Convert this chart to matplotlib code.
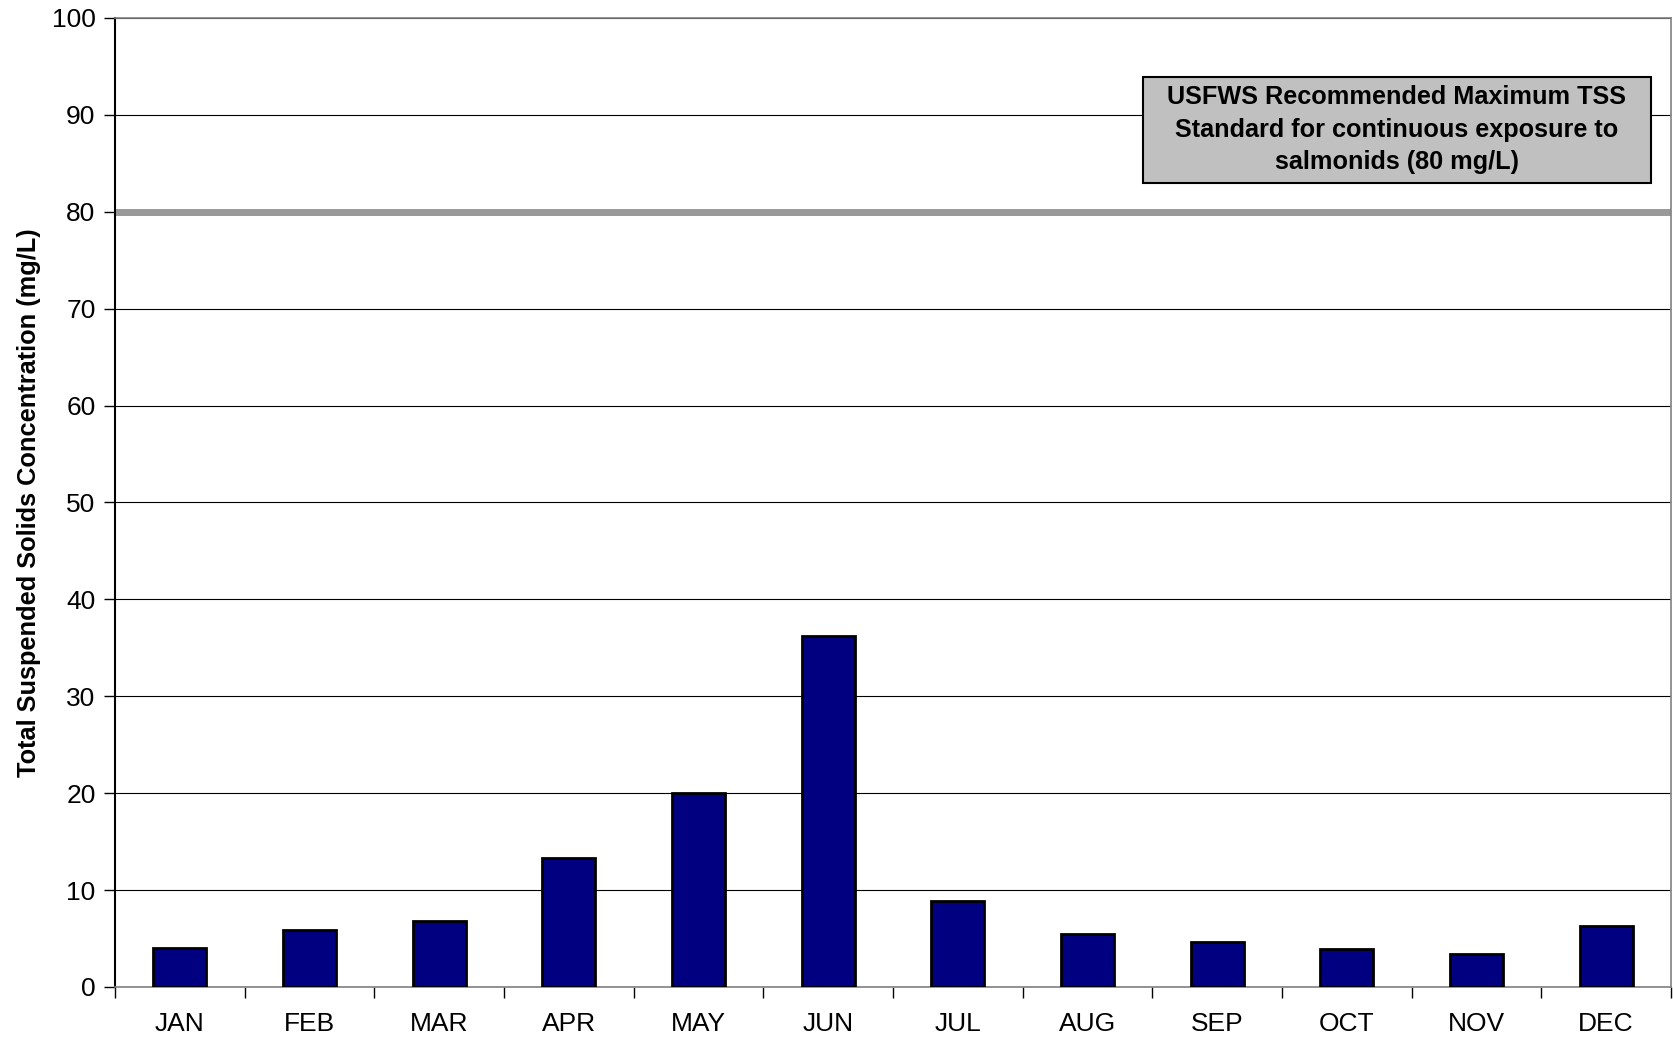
import matplotlib
matplotlib.use("Agg")
import matplotlib.pyplot as plt
from matplotlib.patches import Rectangle
import numpy as np

plt.rcParams['font.family'] = ['Liberation Sans', 'DejaVu Sans']

months = ["JAN", "FEB", "MAR", "APR", "MAY", "JUN",
          "JUL", "AUG", "SEP", "OCT", "NOV", "DEC"]
tss = [4.0, 5.9, 6.8, 13.3, 20.0, 36.2, 8.9, 5.5, 4.6, 3.9, 3.4, 6.3]
standard = 80
y_ticks = list(range(0, 101, 10))

W, H = 1673, 1039
fig = plt.figure(figsize=(W / 100, H / 100), dpi=100)
ax = fig.add_axes([115 / W, 1 - 987 / H, (1671 - 115) / W, (987 - 18) / H])

x = np.arange(len(months))
ax.bar(x, tss, width=0.41, color="#000080", edgecolor="black",
       linewidth=2.0, zorder=3)

ax.set_xlim(-0.5, len(months) - 0.5)
ax.set_ylim(0, 100)
ax.set_yticks(y_ticks)
ax.set_xticks(x)
ax.set_xticklabels(months)
ax.set_xticks(np.arange(-0.5, len(months)), minor=True)
ax.tick_params(axis="x", which="major", length=0, pad=18, labelsize=19)
ax.tick_params(axis="x", which="minor", length=8, width=1, direction="out",
               color="black")
ax.tick_params(axis="y", length=8, width=1, direction="out", labelsize=19,
               pad=6)

ax.yaxis.grid(True, color="black", linewidth=0.8, zorder=0)
ax.set_axisbelow(True)

for side in ["top", "right", "bottom"]:
    ax.spines[side].set_color("#808080")
    ax.spines[side].set_linewidth(1.2)
ax.spines["left"].set_color("black")
ax.spines["left"].set_linewidth(1.5)

# Recommended maximum TSS standard
ax.axhline(standard, color="#999999", linewidth=5, zorder=2,
           solid_capstyle="round")

# Annotation box for the standard
box_x0, box_x1 = 7.426, 11.343
box_y0, box_y1 = 83.0, 93.95
ax.add_patch(Rectangle((box_x0, box_y0), box_x1 - box_x0, box_y1 - box_y0,
                       facecolor="#C0C0C0", edgecolor="black", linewidth=1.5,
                       zorder=5))
ax.text((box_x0 + box_x1) / 2, (box_y0 + box_y1) / 2,
        "USFWS Recommended Maximum TSS\nStandard for continuous exposure to\nsalmonids (80 mg/L)",
        ha="center", va="center", fontsize=18.2, fontweight="bold",
        linespacing=1.45, zorder=6)

ax.set_ylabel("Total Suspended Solids Concentration (mg/L)", fontsize=18.3,
              fontweight="bold", labelpad=8)

fig.savefig("out.png", dpi=100)
